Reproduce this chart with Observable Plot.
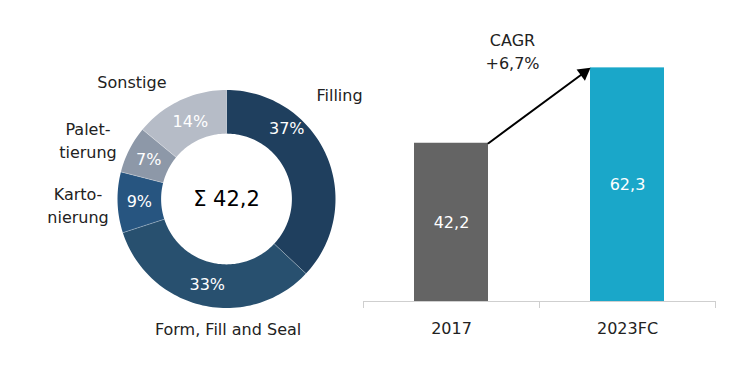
<!DOCTYPE html>
<html>
<head>
<meta charset="utf-8">
<script src="https://cdn.jsdelivr.net/npm/d3@7"></script>
<script src="https://cdn.jsdelivr.net/npm/@observablehq/plot@0.6"></script>
<style>
  html, body { margin: 0; padding: 0; background: #fff; }
  #wrap { position: relative; width: 742px; height: 382px; }
  #wrap svg { position: absolute; left: 0; top: 0; }
</style>
</head>
<body>
<div id="wrap"></div>
<script>
// ---------- data ----------
const segments = ["Filling", "Form, Fill and Seal", "Kartonierung", "Palettierung", "Sonstige"];
const segmentLabels = ["Filling", "Form, Fill and Seal", "Karto-\nnierung", "Palet-\ntierung", "Sonstige"];
const shares = [37, 33, 9, 7, 14];
const total2017 = "Σ 42,2";
const years = ["2017", "2023FC"];
const marketValues = [42.2, 62.3];
const cagrLabel = "CAGR\n+6,7%";

// ---------- style / layout ----------
const FONT = "DejaVu Sans";
const segColors = ["#1f3f5e", "#28506f", "#275580", "#8d98a8", "#b6bcc7"];
const barColors = ["#646464", "#1aa7c9"];
const cx = 226, cy = 198.5, R = 109;      // donut centre / outer radius in px
const innerR = 0.6;                        // inner radius relative to outer
const pctRadius = 0.80;
const pctAngleShift = [-26, 0, 0, 0, 0];   // manual label nudges (degrees)
const pctRadiusShift = [0.05, 0.01, 0, 0, -0.02];
const outerAngle = [47, 179.3, 268, 293.4, 321.4];
const outerRadius = [1.418, 1.179, 1.363, 1.385, 1.391];

const deg = Math.PI / 180;
const fmt = d3.format(".1f");
const deComma = v => fmt(v).replace(".", ",");

// ---------- donut geometry from the shares ----------
const ring = [];
const seps = [];
const pctLabels = [];
let cum = 0;
shares.forEach((s, i) => {
  const a0 = cum / 100 * 2 * Math.PI;
  const a1 = (cum + s) / 100 * 2 * Math.PI;
  const n = Math.max(8, Math.round(s * 2));
  for (let k = 0; k <= n; k++) {
    const a = a0 + (a1 - a0) * k / n;
    ring.push({seg: segments[i], x: Math.sin(a), y: Math.cos(a)});
  }
  for (let k = n; k >= 0; k--) {
    const a = a0 + (a1 - a0) * k / n;
    ring.push({seg: segments[i], x: innerR * Math.sin(a), y: innerR * Math.cos(a)});
  }
  seps.push({x1: innerR * Math.sin(a0), y1: innerR * Math.cos(a0), x2: Math.sin(a0), y2: Math.cos(a0)});
  const am = (a0 + a1) / 2 + pctAngleShift[i] * deg;
  const rr = pctRadius + pctRadiusShift[i];
  pctLabels.push({x: rr * Math.sin(am), y: rr * Math.cos(am), text: s + "%"});
  cum += s;
});
const outerLabels = segmentLabels.map((t, i) => ({
  x: outerRadius[i] * Math.sin(outerAngle[i] * deg),
  y: outerRadius[i] * Math.cos(outerAngle[i] * deg),
  text: t
}));

const donut = Plot.plot({
  width: 742, height: 382,
  margin: 0,
  style: {background: "transparent", fontFamily: FONT, overflow: "visible"},
  x: {domain: [-1, 1], range: [cx - R, cx + R], axis: null},
  y: {domain: [-1, 1], range: [cy + R, cy - R], axis: null},
  color: {domain: segments, range: segColors},
  marks: [
    Plot.line(ring, {x: "x", y: "y", z: "seg", fill: "seg", stroke: null, curve: "linear"}),
    Plot.link(seps, {x1: "x1", y1: "y1", x2: "x2", y2: "y2", stroke: "#ffffff", strokeOpacity: 0.3, strokeWidth: 1}),
    Plot.text(pctLabels, {x: "x", y: "y", text: "text", fill: "white", fontSize: 16}),
    Plot.text(outerLabels, {x: "x", y: "y", text: "text", fill: "#222", fontSize: 16, lineHeight: 1.42}),
    Plot.text([total2017], {x: 0, y: 0, text: d => d, fill: "#000", fontSize: 21})
  ]
});

// ---------- bar chart ----------
const axisY = 301, pxPerUnit = 3.75, yMax = 70;
const xLeft = 363, xRight = 715;
const bandPx = (xRight - xLeft) / years.length;
const barInset = 51;
const halfBar = (bandPx - 2 * barInset) / 2 / bandPx; // in x units
const bars = years.map((y, i) => ({year: y, i, v: marketValues[i]}));

// pixel geometry of the arrow (same linear mappings as the plot scales)
const xs = d3.scaleLinear([0, years.length], [xLeft, xRight]);
const ys = d3.scaleLinear([0, yMax], [axisY, axisY - yMax * pxPerUnit]);
const ax1 = 0.5 + halfBar, ay1 = marketValues[0];
const ax2 = 1.5 - halfBar, ay2 = marketValues[1];
const pdx = xs(ax2) - xs(ax1), pdy = ys(ay2) - ys(ay1);
const plen = Math.hypot(pdx, pdy);
const ux = pdx / plen, uy = pdy / plen;
const headR = 5.2;
const tipBack = 2 * Math.sqrt(Math.PI * headR * headR / (Math.sqrt(3) * 3)); // centre-to-tip of d3 triangle
const rot = Math.atan2(pdx, -pdy) / deg;

const barChart = Plot.plot({
  width: 742, height: 382,
  marginLeft: xLeft, marginRight: 742 - xRight,
  marginTop: 0, marginBottom: 382 - axisY,
  style: {background: "transparent", fontFamily: FONT, overflow: "visible"},
  x: {domain: [0, years.length], axis: null},
  y: {domain: [0, yMax], range: [axisY, axisY - yMax * pxPerUnit], axis: null},
  marks: [
    Plot.rectY(bars, {x1: d => d.i, x2: d => d.i + 1, y: "v", fill: (d) => barColors[d.i], insetLeft: barInset, insetRight: barInset}),
    Plot.ruleY([0], {stroke: "#cfcfcf", strokeWidth: 1.2}),
    Plot.axisX({ticks: d3.range(years.length + 1), tickSize: 7, tickFormat: () => "", stroke: "#cfcfcf"}),
    Plot.axisX({ticks: years.map((d, i) => i + 0.5), tickSize: 0, tickPadding: 21,
      tickFormat: v => years[Math.round(v - 0.5)], fontSize: 16, fill: "#222", fontFamily: FONT}),
    Plot.text(bars, {x: d => d.i + 0.5, y: d => d.v / 2, text: d => deComma(d.v), fill: "white", fontSize: 16}),
    Plot.arrow([0], {x1: ax1, y1: ay1, x2: ax2, y2: ay2, stroke: "#000", strokeWidth: 2, headLength: 0, insetEnd: 9}),
    Plot.dot([0], {x: ax2, y: ay2, symbol: "triangle", r: headR, fill: "#000", stroke: null,
      rotate: rot, dx: -ux * tipBack, dy: -uy * tipBack}),
    Plot.text([cagrLabel], {x: 1, y: ay2, text: d => d, dx: -27, dy: 1, lineAnchor: "bottom",
      fontSize: 16, fill: "#222", lineHeight: 1.4})
  ]
});

document.getElementById("wrap").append(donut, barChart);
</script>
</body>
</html>
